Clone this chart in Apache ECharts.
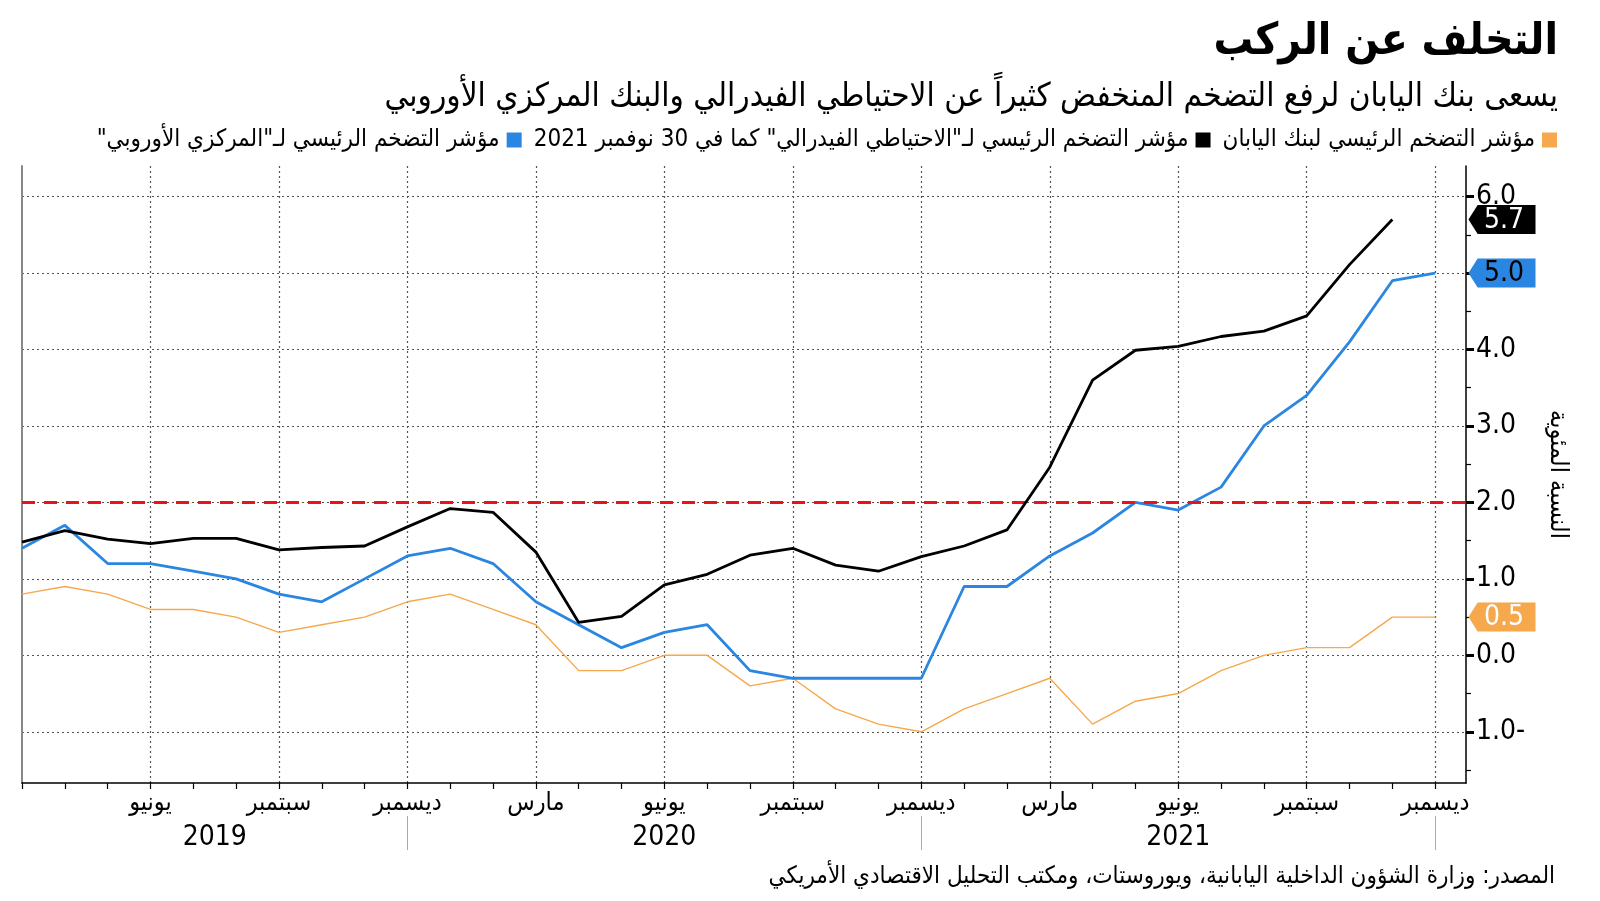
<!DOCTYPE html>
<html lang="ar">
<head>
<meta charset="utf-8">
<script src="https://cdn.jsdelivr.net/npm/echarts@6/dist/echarts.min.js"></script>
<style>html,body{margin:0;padding:0;background:#fff}#c{width:1600px;height:901px;direction:rtl}</style>
</head>
<body>
<div id="c"></div>
<script>
// ---- data ----
const months = ['2019-03','2019-04','2019-05','2019-06','2019-07','2019-08','2019-09','2019-10','2019-11','2019-12',
  '2020-01','2020-02','2020-03','2020-04','2020-05','2020-06','2020-07','2020-08','2020-09','2020-10','2020-11','2020-12',
  '2021-01','2021-02','2021-03','2021-04','2021-05','2021-06','2021-07','2021-08','2021-09','2021-10','2021-11','2021-12'];
const fedPCE = [1.48,1.63,1.52,1.46,1.53,1.53,1.38,1.41,1.43,1.68,
  1.92,1.87,1.35,0.43,0.51,0.92,1.06,1.31,1.40,1.18,1.10,1.29,
  1.43,1.64,2.46,3.60,3.99,4.04,4.17,4.24,4.44,5.11,5.70,null];
const ecbHICP = [1.4,1.7,1.2,1.2,1.1,1.0,0.8,0.7,1.0,1.3,
  1.4,1.2,0.7,0.4,0.1,0.3,0.4,-0.2,-0.3,-0.3,-0.3,-0.3,
  0.9,0.9,1.3,1.6,2.0,1.9,2.2,3.0,3.4,4.1,4.9,5.0];
const bojCore = [0.8,0.9,0.8,0.6,0.6,0.5,0.3,0.4,0.5,0.7,
  0.8,0.6,0.4,-0.2,-0.2,0.0,0.0,-0.4,-0.3,-0.7,-0.9,-1.0,
  -0.7,-0.5,-0.3,-0.9,-0.6,-0.5,-0.2,0.0,0.1,0.1,0.5,0.5];
const nameBoj = 'مؤشر التضخم الرئيسي لبنك اليابان';
const nameFed = 'مؤشر التضخم الرئيسي لـ"الاحتياطي الفيدرالي" كما في 30 نوفمبر 2021';
const nameEcb = 'مؤشر التضخم الرئيسي لـ"المركزي الأوروبي"';
const monthNames = {3:'مارس',6:'يونيو',9:'سبتمبر',12:'ديسمبر'};
const yTicks = [-1,0,1,2,3,4,5,6];
const targetRate = 2.0;
const titleText = 'التخلف عن الركب';
const subtitleText = 'يسعى بنك اليابان لرفع التضخم المنخفض كثيراً عن الاحتياطي الفيدرالي والبنك المركزي الأوروبي';
const yAxisName = 'النسبة المئوية';
const sourceText = 'المصدر: وزارة الشؤون الداخلية اليابانية، ويوروستات، ومكتب التحليل الاقتصادي الأمريكي';

// ---- derived ----
const FONT = '"DejaVu Sans Condensed","DejaVu Sans",sans-serif';
const X_MAX = months.length - 1 + 0.72;
const Y_MIN = -1.67, Y_MAX = 6.4;
const idx = months.map((m, i) => i);
const monthNum = i => parseInt(months[i].slice(5), 10);
const quarterIdx = idx.filter(i => i > 0 && monthNum(i) % 3 === 0);
const decIdx = idx.filter(i => monthNum(i) === 12);
const yearStarts = [0].concat(decIdx.slice(0, -1));
const yearCenters = decIdx.map((d, k) => (yearStarts[k] + d) / 2);
const yearLabels = decIdx.map(d => months[d].slice(0, 4));
const halfTicks = yTicks.slice(0, -1).map(v => v + 0.5).concat([yTicks[0] - 0.5]);
const toPairs = arr => arr.map((v, i) => [i, v]);
const lastVal = arr => { for (let i = arr.length - 1; i >= 0; i--) if (arr[i] != null) return arr[i]; };
const fmtY = v => { const s = Math.abs(v).toFixed(1) + (v < 0 ? '-' : ''); return '\u202D' + s + '\u202C'; };

function tag(color, textColor, val) {
  return {
    symbol: 'path://M0,14L9,0L66,0L66,28L9,28Z',
    symbolSize: [67, 29], symbolKeepAspect: false, symbolOffset: [36, 0],
    itemStyle: { color: color },
    label: { show: true, position: 'inside', offset: [2, 1], color: textColor, fontSize: 28, fontFamily: FONT,
      formatter: () => '\u202D' + val.toFixed(1) + '\u202C' },
    data: [{ coord: [X_MAX, val] }],
    animation: false
  };
}

const chart = echarts.init(document.getElementById('c'), null, { renderer: 'canvas' });
chart.setOption({
  backgroundColor: '#fff',
  animation: false,
  textStyle: { fontFamily: FONT },
  title: [
    { text: titleText, right: 37, top: 16, textStyle: { fontSize: 44, fontWeight: 'bold', color: '#000', fontFamily: FONT } },
    { text: subtitleText, right: 37, top: 76, textStyle: { fontSize: 33, fontWeight: 'normal', color: '#000', fontFamily: FONT } },
    { text: sourceText, right: 40, top: 860, textStyle: { fontSize: 24, fontWeight: 'normal', color: '#000', fontFamily: FONT } }
  ],
  legend: {
    right: 38, top: 123, align: 'right', icon: 'rect', itemWidth: 15, itemHeight: 15, itemGap: 12,
    textStyle: { fontSize: 24, color: '#000', fontFamily: FONT, padding: [0, 2, 0, 2] },
    data: [nameEcb, nameFed, nameBoj], selectedMode: false
  },
  grid: { left: 22, right: 134, top: 166, bottom: 118, containLabel: false },
  xAxis: [
    {
      type: 'value', min: 0, max: X_MAX, position: 'bottom',
      axisLine: { show: true, onZero: false, lineStyle: { color: '#000', width: 1.5 } },
      axisTick: { show: true, customValues: idx, length: 6, lineStyle: { color: '#000', width: 1.2 } },
      axisLabel: { show: true, customValues: quarterIdx, margin: 8, fontSize: 25, color: '#000', fontFamily: FONT,
        formatter: v => monthNames[monthNum(Math.round(v))] || '' },
      splitLine: { show: false }
    },
    {
      type: 'value', min: 0, max: X_MAX, position: 'bottom',
      axisLine: { show: false, onZero: false }, axisLabel: { show: false },
      axisTick: { show: false, customValues: quarterIdx },
      splitLine: { show: true, lineStyle: { color: '#555', width: 1.2, type: [2, 3] } }
    },
    {
      type: 'value', min: 0, max: X_MAX, position: 'bottom', offset: 33,
      axisLine: { show: false, onZero: false },
      axisTick: { show: true, customValues: decIdx, length: 34, lineStyle: { color: '#aaa', width: 1 } },
      axisLabel: { show: true, customValues: yearCenters, margin: 8, fontSize: 28, color: '#000', fontFamily: FONT,
        formatter: v => { const k = yearCenters.findIndex(c => Math.abs(c - v) < 1e-6); return k >= 0 ? yearLabels[k] : ''; } },
      splitLine: { show: false }
    }
  ],
  yAxis: [
    {
      type: 'value', position: 'right', min: Y_MIN, max: Y_MAX,
      name: yAxisName, nameLocation: 'middle', nameGap: 79, nameRotate: -90,
      nameTextStyle: { fontSize: 25, color: '#000', fontFamily: FONT },
      axisLine: { show: true, onZero: false, lineStyle: { color: '#000', width: 1.5 } },
      axisTick: { show: true, customValues: yTicks, length: 8, lineStyle: { color: '#000', width: 3 } },
      axisLabel: { show: true, customValues: yTicks, margin: 10, fontSize: 28, color: '#000', fontFamily: FONT, formatter: fmtY },
      splitLine: { show: true, lineStyle: { color: '#555', width: 1.2, type: [2, 3] } }
    },
    {
      type: 'value', position: 'right', min: Y_MIN, max: Y_MAX,
      axisLine: { show: false, onZero: false }, axisLabel: { show: false },
      axisTick: { show: true, customValues: halfTicks, length: 5, lineStyle: { color: '#000', width: 1.2 } },
      splitLine: { show: false }
    },
    {
      type: 'value', position: 'left', min: Y_MIN, max: Y_MAX,
      axisLine: { show: true, onZero: false, lineStyle: { color: '#888', width: 2 } },
      axisLabel: { show: false }, axisTick: { show: false }, splitLine: { show: false }
    }
  ],
  series: [
    {
      name: nameBoj, type: 'line', data: toPairs(bojCore), showSymbol: false, z: 3,
      lineStyle: { color: '#f6a84c', width: 1.4 }, itemStyle: { color: '#f6a84c' },
      markLine: { silent: true, symbol: 'none', label: { show: false }, animation: false,
        lineStyle: { color: '#e8141c', width: 3, type: [13, 9] }, data: [{ yAxis: targetRate }] },
      markPoint: tag('#f6a84c', '#fff', lastVal(bojCore))
    },
    {
      name: nameEcb, type: 'line', data: toPairs(ecbHICP), showSymbol: false, z: 4,
      lineStyle: { color: '#2a86e0', width: 2.8 }, itemStyle: { color: '#2a86e0' },
      markPoint: tag('#2a86e0', '#000', lastVal(ecbHICP))
    },
    {
      name: nameFed, type: 'line', data: toPairs(fedPCE), showSymbol: false, z: 5,
      lineStyle: { color: '#000', width: 2.8 }, itemStyle: { color: '#000' },
      markPoint: tag('#000', '#fff', lastVal(fedPCE))
    }
  ]
});
</script>
</body>
</html>
